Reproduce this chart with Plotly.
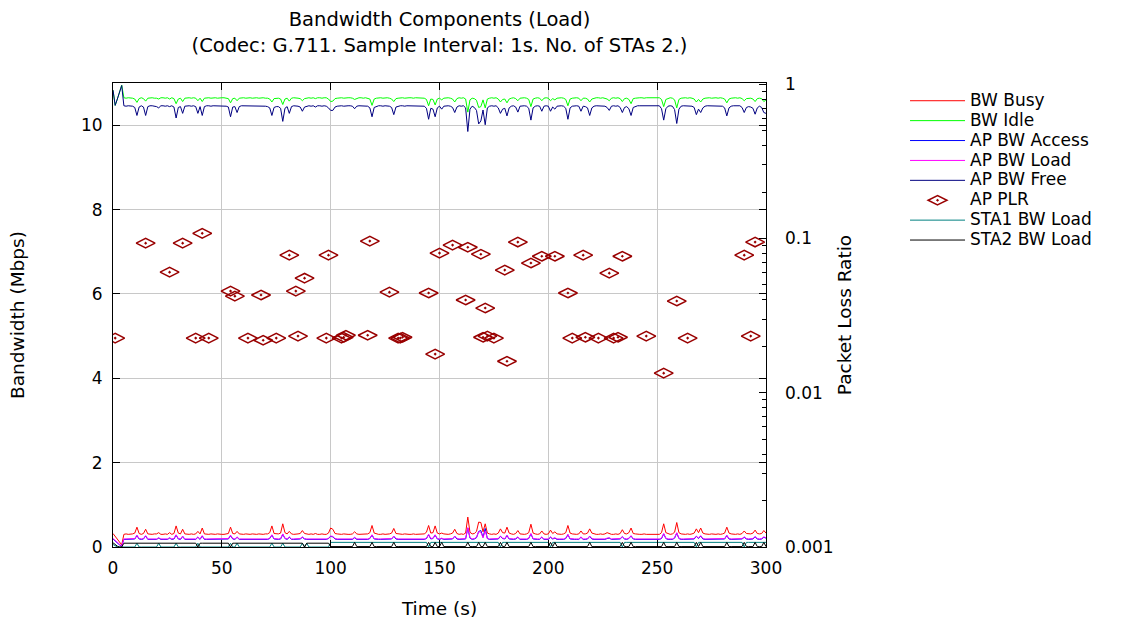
import plotly.graph_objects as go

# ---------------- data ----------------
TIME_S = list(range(0, 301))

BW_BUSY = [
    0.32, 0.25, 0.19, 0.12, 0.05, 0.30, 0.31, 0.30, 0.30, 0.31, 0.33, 0.47, 0.32, 0.30, 0.32, 0.42, 0.31, 0.30, 0.30, 0.31,
    0.31, 0.34, 0.30, 0.30, 0.31, 0.30, 0.34, 0.30, 0.32, 0.50, 0.33, 0.31, 0.42, 0.31, 0.30, 0.30, 0.31, 0.30, 0.31, 0.37,
    0.31, 0.45, 0.31, 0.30, 0.30, 0.31, 0.30, 0.30, 0.31, 0.30, 0.30, 0.30, 0.31, 0.32, 0.47, 0.32, 0.31, 0.37, 0.31, 0.30,
    0.30, 0.31, 0.30, 0.30, 0.31, 0.30, 0.30, 0.31, 0.30, 0.30, 0.31, 0.31, 0.34, 0.50, 0.32, 0.31, 0.31, 0.33, 0.55, 0.34,
    0.31, 0.37, 0.31, 0.30, 0.30, 0.31, 0.32, 0.39, 0.32, 0.31, 0.30, 0.31, 0.30, 0.32, 0.30, 0.30, 0.31, 0.30, 0.30, 0.33,
    0.45, 0.42, 0.32, 0.31, 0.30, 0.30, 0.31, 0.30, 0.30, 0.30, 0.31, 0.36, 0.31, 0.30, 0.30, 0.31, 0.30, 0.31, 0.34, 0.51,
    0.33, 0.31, 0.30, 0.30, 0.31, 0.30, 0.30, 0.31, 0.33, 0.44, 0.32, 0.31, 0.30, 0.30, 0.31, 0.30, 0.30, 0.30, 0.31, 0.30,
    0.30, 0.31, 0.30, 0.31, 0.35, 0.51, 0.33, 0.34, 0.50, 0.33, 0.31, 0.33, 0.31, 0.30, 0.30, 0.31, 0.33, 0.42, 0.32, 0.30,
    0.31, 0.30, 0.33, 0.71, 0.35, 0.31, 0.32, 0.37, 0.59, 0.58, 0.36, 0.55, 0.33, 0.31, 0.30, 0.31, 0.30, 0.33, 0.43, 0.34,
    0.33, 0.47, 0.33, 0.31, 0.30, 0.32, 0.39, 0.31, 0.30, 0.30, 0.31, 0.34, 0.54, 0.33, 0.31, 0.30, 0.31, 0.38, 0.31, 0.30,
    0.31, 0.40, 0.32, 0.36, 0.31, 0.30, 0.30, 0.31, 0.34, 0.51, 0.33, 0.31, 0.30, 0.30, 0.31, 0.38, 0.31, 0.31, 0.33, 0.43,
    0.33, 0.31, 0.30, 0.30, 0.31, 0.30, 0.31, 0.34, 0.31, 0.30, 0.30, 0.31, 0.30, 0.32, 0.41, 0.32, 0.31, 0.34, 0.45, 0.32,
    0.31, 0.30, 0.30, 0.30, 0.31, 0.30, 0.30, 0.30, 0.31, 0.30, 0.30, 0.30, 0.34, 0.55, 0.34, 0.31, 0.30, 0.31, 0.35, 0.58,
    0.34, 0.31, 0.30, 0.30, 0.31, 0.30, 0.31, 0.33, 0.43, 0.34, 0.45, 0.33, 0.31, 0.30, 0.30, 0.31, 0.30, 0.30, 0.31, 0.30,
    0.31, 0.33, 0.47, 0.33, 0.31, 0.30, 0.30, 0.31, 0.30, 0.32, 0.38, 0.32, 0.31, 0.31, 0.33, 0.40, 0.32, 0.31, 0.32, 0.39,
    0.33,
]

BW_IDLE = [
    10.83, 10.47, 10.62, 10.78, 10.95, 10.65, 10.64, 10.65, 10.65, 10.64, 10.62, 10.54, 10.63, 10.65, 10.63, 10.57, 10.64, 10.65, 10.65, 10.64,
    10.64, 10.62, 10.65, 10.65, 10.64, 10.65, 10.62, 10.65, 10.63, 10.51, 10.62, 10.64, 10.56, 10.64, 10.65, 10.65, 10.64, 10.65, 10.64, 10.58,
    10.64, 10.56, 10.64, 10.65, 10.65, 10.64, 10.65, 10.65, 10.64, 10.65, 10.65, 10.65, 10.64, 10.63, 10.53, 10.63, 10.64, 10.58, 10.64, 10.65,
    10.65, 10.64, 10.65, 10.65, 10.64, 10.65, 10.65, 10.64, 10.65, 10.65, 10.64, 10.64, 10.62, 10.55, 10.63, 10.64, 10.64, 10.62, 10.49, 10.62,
    10.64, 10.57, 10.64, 10.65, 10.65, 10.64, 10.63, 10.58, 10.63, 10.64, 10.65, 10.64, 10.65, 10.63, 10.65, 10.65, 10.64, 10.65, 10.65, 10.62,
    10.56, 10.57, 10.63, 10.64, 10.65, 10.65, 10.64, 10.65, 10.65, 10.65, 10.64, 10.61, 10.64, 10.65, 10.65, 10.64, 10.65, 10.64, 10.62, 10.47,
    10.62, 10.64, 10.65, 10.65, 10.64, 10.65, 10.65, 10.64, 10.62, 10.56, 10.63, 10.64, 10.65, 10.65, 10.64, 10.65, 10.65, 10.65, 10.64, 10.65,
    10.65, 10.64, 10.65, 10.64, 10.61, 10.46, 10.62, 10.61, 10.48, 10.62, 10.64, 10.60, 10.64, 10.65, 10.65, 10.64, 10.62, 10.55, 10.63, 10.65,
    10.64, 10.65, 10.62, 10.31, 10.60, 10.64, 10.63, 10.59, 10.42, 10.44, 10.60, 10.41, 10.62, 10.64, 10.65, 10.64, 10.65, 10.62, 10.55, 10.61,
    10.62, 10.53, 10.62, 10.64, 10.65, 10.63, 10.58, 10.64, 10.65, 10.65, 10.64, 10.61, 10.44, 10.62, 10.64, 10.65, 10.64, 10.58, 10.64, 10.65,
    10.64, 10.58, 10.63, 10.60, 10.64, 10.65, 10.65, 10.64, 10.61, 10.46, 10.62, 10.64, 10.65, 10.65, 10.64, 10.58, 10.64, 10.64, 10.62, 10.55,
    10.62, 10.64, 10.65, 10.65, 10.64, 10.65, 10.64, 10.62, 10.58, 10.64, 10.65, 10.64, 10.65, 10.63, 10.56, 10.63, 10.64, 10.61, 10.51, 10.63,
    10.64, 10.65, 10.65, 10.65, 10.64, 10.65, 10.65, 10.65, 10.64, 10.65, 10.65, 10.65, 10.61, 10.44, 10.61, 10.64, 10.65, 10.64, 10.60, 10.41,
    10.61, 10.64, 10.65, 10.65, 10.64, 10.65, 10.64, 10.62, 10.55, 10.61, 10.55, 10.62, 10.64, 10.65, 10.65, 10.64, 10.65, 10.65, 10.64, 10.65,
    10.64, 10.62, 10.53, 10.62, 10.64, 10.65, 10.65, 10.64, 10.65, 10.63, 10.58, 10.63, 10.64, 10.64, 10.62, 10.56, 10.63, 10.64, 10.63, 10.56,
    10.60,
]

AP_BW_ACCESS = [
    0.19, 0.14, 0.09, 0.05, 0.02, 0.18, 0.18, 0.18, 0.18, 0.18, 0.19, 0.27, 0.19, 0.18, 0.19, 0.26, 0.18, 0.18, 0.18, 0.18,
    0.18, 0.21, 0.18, 0.18, 0.18, 0.18, 0.21, 0.18, 0.19, 0.28, 0.19, 0.18, 0.25, 0.18, 0.18, 0.18, 0.18, 0.18, 0.18, 0.23,
    0.18, 0.26, 0.18, 0.18, 0.18, 0.18, 0.18, 0.18, 0.18, 0.18, 0.18, 0.18, 0.18, 0.19, 0.27, 0.19, 0.18, 0.23, 0.18, 0.18,
    0.18, 0.18, 0.18, 0.18, 0.18, 0.18, 0.18, 0.18, 0.18, 0.18, 0.18, 0.18, 0.20, 0.28, 0.19, 0.18, 0.18, 0.19, 0.30, 0.20,
    0.18, 0.23, 0.18, 0.18, 0.18, 0.18, 0.19, 0.23, 0.19, 0.18, 0.18, 0.18, 0.18, 0.19, 0.18, 0.18, 0.18, 0.18, 0.18, 0.20,
    0.25, 0.24, 0.19, 0.18, 0.18, 0.18, 0.18, 0.18, 0.18, 0.18, 0.18, 0.22, 0.18, 0.18, 0.18, 0.18, 0.18, 0.18, 0.20, 0.28,
    0.19, 0.18, 0.18, 0.18, 0.18, 0.18, 0.18, 0.18, 0.19, 0.25, 0.19, 0.18, 0.18, 0.18, 0.18, 0.18, 0.18, 0.18, 0.18, 0.18,
    0.18, 0.18, 0.18, 0.18, 0.20, 0.29, 0.19, 0.20, 0.28, 0.19, 0.18, 0.20, 0.18, 0.18, 0.18, 0.18, 0.19, 0.25, 0.19, 0.18,
    0.18, 0.18, 0.19, 0.45, 0.21, 0.18, 0.19, 0.22, 0.37, 0.39, 0.23, 0.44, 0.20, 0.18, 0.18, 0.18, 0.18, 0.19, 0.25, 0.20,
    0.19, 0.27, 0.19, 0.18, 0.18, 0.19, 0.23, 0.18, 0.18, 0.18, 0.18, 0.20, 0.31, 0.19, 0.18, 0.18, 0.18, 0.23, 0.18, 0.18,
    0.18, 0.23, 0.19, 0.21, 0.18, 0.18, 0.18, 0.18, 0.20, 0.29, 0.19, 0.18, 0.18, 0.18, 0.18, 0.23, 0.18, 0.18, 0.19, 0.25,
    0.19, 0.18, 0.18, 0.18, 0.18, 0.18, 0.18, 0.20, 0.21, 0.18, 0.18, 0.18, 0.18, 0.19, 0.24, 0.19, 0.18, 0.20, 0.26, 0.19,
    0.18, 0.18, 0.18, 0.18, 0.18, 0.18, 0.18, 0.18, 0.18, 0.18, 0.18, 0.18, 0.20, 0.31, 0.20, 0.18, 0.18, 0.18, 0.21, 0.33,
    0.20, 0.18, 0.18, 0.18, 0.18, 0.18, 0.18, 0.19, 0.25, 0.20, 0.26, 0.19, 0.18, 0.18, 0.18, 0.18, 0.18, 0.18, 0.18, 0.18,
    0.18, 0.19, 0.27, 0.19, 0.18, 0.18, 0.18, 0.18, 0.18, 0.19, 0.23, 0.19, 0.18, 0.18, 0.19, 0.24, 0.19, 0.18, 0.19, 0.23,
    0.21,
]

AP_BW_LOAD = [
    0.20, 0.15, 0.10, 0.06, 0.02, 0.19, 0.19, 0.19, 0.19, 0.19, 0.20, 0.28, 0.20, 0.19, 0.20, 0.27, 0.19, 0.19, 0.19, 0.19,
    0.19, 0.22, 0.19, 0.19, 0.19, 0.19, 0.22, 0.19, 0.20, 0.29, 0.20, 0.19, 0.26, 0.19, 0.19, 0.19, 0.19, 0.19, 0.19, 0.24,
    0.19, 0.27, 0.19, 0.19, 0.19, 0.19, 0.19, 0.19, 0.19, 0.19, 0.19, 0.19, 0.19, 0.20, 0.28, 0.20, 0.19, 0.24, 0.19, 0.19,
    0.19, 0.19, 0.19, 0.19, 0.19, 0.19, 0.19, 0.19, 0.19, 0.19, 0.19, 0.19, 0.21, 0.29, 0.20, 0.19, 0.19, 0.20, 0.31, 0.21,
    0.19, 0.24, 0.19, 0.19, 0.19, 0.19, 0.20, 0.24, 0.20, 0.19, 0.19, 0.19, 0.19, 0.20, 0.19, 0.19, 0.19, 0.19, 0.19, 0.21,
    0.26, 0.25, 0.20, 0.19, 0.19, 0.19, 0.19, 0.19, 0.19, 0.19, 0.19, 0.23, 0.19, 0.19, 0.19, 0.19, 0.19, 0.19, 0.21, 0.29,
    0.20, 0.19, 0.19, 0.19, 0.19, 0.19, 0.19, 0.19, 0.20, 0.26, 0.20, 0.19, 0.19, 0.19, 0.19, 0.19, 0.19, 0.19, 0.19, 0.19,
    0.19, 0.19, 0.19, 0.19, 0.21, 0.30, 0.20, 0.21, 0.29, 0.20, 0.19, 0.21, 0.19, 0.19, 0.19, 0.19, 0.20, 0.26, 0.20, 0.19,
    0.19, 0.19, 0.20, 0.46, 0.22, 0.19, 0.20, 0.23, 0.36, 0.35, 0.22, 0.38, 0.20, 0.19, 0.19, 0.19, 0.19, 0.20, 0.26, 0.21,
    0.20, 0.28, 0.20, 0.19, 0.19, 0.20, 0.24, 0.19, 0.19, 0.19, 0.19, 0.21, 0.32, 0.20, 0.19, 0.19, 0.19, 0.24, 0.19, 0.19,
    0.19, 0.24, 0.20, 0.22, 0.19, 0.19, 0.19, 0.19, 0.21, 0.30, 0.20, 0.19, 0.19, 0.19, 0.19, 0.24, 0.19, 0.19, 0.20, 0.26,
    0.20, 0.19, 0.19, 0.19, 0.19, 0.19, 0.19, 0.21, 0.22, 0.19, 0.19, 0.19, 0.19, 0.20, 0.25, 0.20, 0.19, 0.21, 0.27, 0.20,
    0.19, 0.19, 0.19, 0.19, 0.19, 0.19, 0.19, 0.19, 0.19, 0.19, 0.19, 0.19, 0.21, 0.32, 0.21, 0.19, 0.19, 0.19, 0.22, 0.34,
    0.21, 0.19, 0.19, 0.19, 0.19, 0.19, 0.19, 0.20, 0.26, 0.21, 0.27, 0.20, 0.19, 0.19, 0.19, 0.19, 0.19, 0.19, 0.19, 0.19,
    0.19, 0.20, 0.28, 0.20, 0.19, 0.19, 0.19, 0.19, 0.19, 0.20, 0.24, 0.20, 0.19, 0.19, 0.20, 0.25, 0.20, 0.19, 0.20, 0.24,
    0.22,
]

AP_BW_FREE = [
    10.83, 10.47, 10.62, 10.78, 10.94, 10.46, 10.45, 10.46, 10.46, 10.45, 10.42, 10.23, 10.43, 10.46, 10.43, 10.23, 10.44, 10.46, 10.46, 10.45,
    10.44, 10.41, 10.46, 10.46, 10.45, 10.46, 10.44, 10.46, 10.43, 10.17, 10.42, 10.44, 10.28, 10.45, 10.46, 10.46, 10.45, 10.46, 10.44, 10.28,
    10.44, 10.23, 10.44, 10.46, 10.46, 10.45, 10.46, 10.46, 10.45, 10.46, 10.46, 10.46, 10.45, 10.43, 10.20, 10.43, 10.44, 10.30, 10.44, 10.46,
    10.46, 10.45, 10.46, 10.46, 10.45, 10.46, 10.46, 10.45, 10.46, 10.46, 10.45, 10.44, 10.41, 10.23, 10.42, 10.44, 10.44, 10.40, 10.09, 10.40,
    10.44, 10.28, 10.44, 10.46, 10.46, 10.45, 10.43, 10.33, 10.43, 10.45, 10.46, 10.45, 10.46, 10.43, 10.46, 10.46, 10.45, 10.46, 10.45, 10.41,
    10.35, 10.35, 10.43, 10.45, 10.46, 10.46, 10.45, 10.46, 10.46, 10.46, 10.45, 10.39, 10.45, 10.46, 10.46, 10.45, 10.46, 10.45, 10.41, 10.20,
    10.42, 10.45, 10.46, 10.46, 10.45, 10.46, 10.46, 10.45, 10.42, 10.25, 10.43, 10.45, 10.46, 10.46, 10.45, 10.46, 10.46, 10.46, 10.45, 10.46,
    10.46, 10.45, 10.46, 10.45, 10.40, 10.14, 10.40, 10.38, 10.20, 10.41, 10.45, 10.38, 10.45, 10.46, 10.46, 10.45, 10.42, 10.30, 10.43, 10.46,
    10.45, 10.46, 10.41, 9.85, 10.38, 10.45, 10.42, 10.35, 10.03, 10.10, 10.36, 10.01, 10.41, 10.45, 10.46, 10.45, 10.46, 10.41, 10.28, 10.38,
    10.40, 10.22, 10.41, 10.45, 10.46, 10.43, 10.31, 10.45, 10.46, 10.46, 10.45, 10.40, 10.12, 10.41, 10.45, 10.46, 10.45, 10.33, 10.45, 10.46,
    10.45, 10.33, 10.43, 10.38, 10.45, 10.46, 10.46, 10.45, 10.40, 10.14, 10.41, 10.45, 10.46, 10.46, 10.45, 10.33, 10.45, 10.44, 10.41, 10.23,
    10.41, 10.45, 10.46, 10.46, 10.45, 10.46, 10.45, 10.42, 10.35, 10.45, 10.46, 10.45, 10.46, 10.42, 10.30, 10.42, 10.44, 10.39, 10.23, 10.42,
    10.45, 10.46, 10.46, 10.46, 10.45, 10.46, 10.46, 10.46, 10.45, 10.46, 10.46, 10.46, 10.39, 10.12, 10.39, 10.45, 10.46, 10.45, 10.37, 10.04,
    10.38, 10.45, 10.46, 10.46, 10.45, 10.46, 10.45, 10.42, 10.25, 10.38, 10.30, 10.41, 10.45, 10.46, 10.46, 10.45, 10.46, 10.46, 10.45, 10.46,
    10.45, 10.41, 10.22, 10.41, 10.45, 10.46, 10.46, 10.45, 10.46, 10.42, 10.30, 10.42, 10.44, 10.43, 10.40, 10.26, 10.41, 10.45, 10.42, 10.30,
    10.28,
]

STA1_BW_LOAD = [
    0.06, 0.03, 0.00, 0.00, 0.00, 0.00, 0.00, 0.00, 0.00, 0.00, 0.00, 0.09, 0.00, 0.00, 0.00, 0.00, 0.00, 0.00, 0.00, 0.00,
    0.00, 0.09, 0.00, 0.00, 0.00, 0.00, 0.00, 0.00, 0.00, 0.09, 0.00, 0.00, 0.00, 0.00, 0.00, 0.00, 0.00, 0.00, 0.00, 0.09,
    0.00, 0.00, 0.00, 0.00, 0.00, 0.00, 0.00, 0.00, 0.00, 0.00, 0.00, 0.00, 0.00, 0.00, 0.09, 0.00, 0.00, 0.09, 0.00, 0.00,
    0.00, 0.00, 0.00, 0.00, 0.00, 0.00, 0.00, 0.00, 0.00, 0.00, 0.00, 0.00, 0.00, 0.09, 0.00, 0.00, 0.00, 0.00, 0.09, 0.00,
    0.00, 0.00, 0.00, 0.00, 0.00, 0.00, 0.00, 0.09, 0.00, 0.09, 0.00, 0.00, 0.00, 0.00, 0.00, 0.00, 0.00, 0.00, 0.00, 0.00,
    0.11, 0.11, 0.11, 0.11, 0.11, 0.11, 0.11, 0.11, 0.11, 0.11, 0.11, 0.11, 0.11, 0.11, 0.11, 0.11, 0.11, 0.11, 0.11, 0.11,
    0.11, 0.11, 0.11, 0.11, 0.11, 0.11, 0.11, 0.11, 0.11, 0.11, 0.11, 0.11, 0.11, 0.11, 0.11, 0.11, 0.11, 0.11, 0.11, 0.11,
    0.11, 0.11, 0.11, 0.11, 0.11, 0.00, 0.11, 0.11, 0.11, 0.11, 0.11, 0.11, 0.11, 0.11, 0.11, 0.11, 0.11, 0.11, 0.11, 0.11,
    0.11, 0.11, 0.11, 0.11, 0.11, 0.11, 0.11, 0.11, 0.11, 0.11, 0.11, 0.11, 0.11, 0.11, 0.11, 0.11, 0.11, 0.11, 0.00, 0.11,
    0.11, 0.11, 0.11, 0.11, 0.11, 0.11, 0.11, 0.11, 0.11, 0.11, 0.11, 0.11, 0.11, 0.11, 0.11, 0.11, 0.11, 0.11, 0.11, 0.11,
    0.11, 0.00, 0.11, 0.11, 0.11, 0.11, 0.11, 0.11, 0.11, 0.11, 0.11, 0.11, 0.11, 0.11, 0.11, 0.11, 0.11, 0.11, 0.11, 0.11,
    0.11, 0.11, 0.11, 0.11, 0.11, 0.11, 0.11, 0.11, 0.11, 0.11, 0.11, 0.11, 0.11, 0.11, 0.00, 0.11, 0.11, 0.11, 0.11, 0.11,
    0.11, 0.11, 0.11, 0.11, 0.11, 0.11, 0.11, 0.11, 0.11, 0.11, 0.11, 0.11, 0.11, 0.11, 0.11, 0.11, 0.11, 0.11, 0.11, 0.11,
    0.11, 0.11, 0.11, 0.11, 0.11, 0.11, 0.11, 0.11, 0.00, 0.11, 0.11, 0.11, 0.11, 0.11, 0.11, 0.11, 0.11, 0.11, 0.11, 0.11,
    0.11, 0.11, 0.11, 0.11, 0.11, 0.11, 0.11, 0.11, 0.11, 0.11, 0.00, 0.11, 0.11, 0.11, 0.11, 0.11, 0.11, 0.11, 0.11, 0.11,
    0.11,
]

STA2_BW_LOAD = [
    0.10, 0.05, 0.02, 0.00, 0.00, 0.09, 0.09, 0.09, 0.09, 0.09, 0.09, 0.09, 0.09, 0.09, 0.09, 0.09, 0.09, 0.09, 0.09, 0.09,
    0.09, 0.09, 0.09, 0.09, 0.09, 0.09, 0.09, 0.09, 0.09, 0.09, 0.09, 0.09, 0.09, 0.09, 0.09, 0.09, 0.09, 0.09, 0.09, 0.00,
    0.09, 0.09, 0.09, 0.09, 0.09, 0.09, 0.09, 0.09, 0.09, 0.09, 0.09, 0.09, 0.09, 0.09, 0.00, 0.09, 0.09, 0.09, 0.09, 0.09,
    0.09, 0.09, 0.09, 0.09, 0.09, 0.09, 0.09, 0.09, 0.09, 0.09, 0.09, 0.09, 0.09, 0.09, 0.09, 0.09, 0.09, 0.09, 0.09, 0.09,
    0.09, 0.09, 0.09, 0.09, 0.09, 0.09, 0.09, 0.09, 0.00, 0.09, 0.09, 0.09, 0.09, 0.09, 0.09, 0.09, 0.09, 0.09, 0.09, 0.09,
    0.01, 0.01, 0.01, 0.01, 0.01, 0.01, 0.01, 0.01, 0.01, 0.01, 0.01, 0.11, 0.01, 0.01, 0.01, 0.01, 0.01, 0.01, 0.01, 0.11,
    0.01, 0.01, 0.01, 0.01, 0.01, 0.01, 0.01, 0.01, 0.01, 0.11, 0.01, 0.01, 0.01, 0.01, 0.01, 0.01, 0.01, 0.01, 0.01, 0.01,
    0.01, 0.01, 0.01, 0.01, 0.01, 0.11, 0.01, 0.01, 0.11, 0.01, 0.01, 0.11, 0.01, 0.01, 0.01, 0.01, 0.01, 0.01, 0.01, 0.01,
    0.01, 0.01, 0.01, 0.11, 0.01, 0.01, 0.01, 0.01, 0.11, 0.01, 0.01, 0.11, 0.01, 0.01, 0.01, 0.01, 0.01, 0.01, 0.11, 0.01,
    0.01, 0.11, 0.01, 0.01, 0.01, 0.01, 0.01, 0.01, 0.01, 0.01, 0.01, 0.01, 0.11, 0.01, 0.01, 0.01, 0.01, 0.01, 0.01, 0.01,
    0.01, 0.11, 0.01, 0.11, 0.01, 0.01, 0.01, 0.01, 0.01, 0.01, 0.01, 0.01, 0.01, 0.01, 0.01, 0.01, 0.01, 0.01, 0.01, 0.11,
    0.01, 0.01, 0.01, 0.01, 0.01, 0.01, 0.01, 0.01, 0.01, 0.01, 0.01, 0.01, 0.01, 0.01, 0.11, 0.01, 0.01, 0.01, 0.11, 0.01,
    0.01, 0.01, 0.01, 0.01, 0.01, 0.01, 0.01, 0.01, 0.01, 0.01, 0.01, 0.01, 0.01, 0.11, 0.01, 0.01, 0.01, 0.01, 0.01, 0.11,
    0.01, 0.01, 0.01, 0.01, 0.01, 0.01, 0.01, 0.01, 0.11, 0.01, 0.11, 0.01, 0.01, 0.01, 0.01, 0.01, 0.01, 0.01, 0.01, 0.01,
    0.01, 0.01, 0.11, 0.01, 0.01, 0.01, 0.01, 0.01, 0.01, 0.01, 0.11, 0.01, 0.01, 0.01, 0.01, 0.11, 0.01, 0.01, 0.01, 0.11,
    0.01,
]

PLR_TIME = [
    1, 15, 26, 32, 38, 41, 44, 54, 56, 62, 68, 69, 75, 81, 84, 85, 88, 98, 99,
    105, 106, 107, 117, 118, 127, 131, 132, 133, 145, 148, 150, 156, 162, 163,
    169, 170, 171, 172, 175, 180, 181, 186, 192, 197, 203, 209, 211, 216, 217,
    223, 228, 230, 232, 234, 245, 253, 259, 264, 290, 293, 295,
]
PLR_VALUE = [
    0.0226, 0.0933, 0.0605, 0.0933, 0.0226, 0.108, 0.0226, 0.0456, 0.0423, 0.0226, 0.043, 0.0219, 0.0226, 0.078, 0.0456, 0.0233, 0.0553, 0.0226, 0.078,
    0.0226, 0.0229, 0.0236, 0.0236, 0.0962, 0.0449, 0.0226, 0.0226, 0.0229, 0.0443, 0.0178, 0.0804, 0.0906, 0.0399, 0.0878,
    0.0791, 0.0229, 0.0354, 0.0233, 0.0226, 0.0624, 0.0160, 0.0948, 0.0693, 0.0767, 0.0767, 0.0443, 0.0226, 0.078, 0.0229,
    0.0226, 0.0596, 0.0226, 0.0229, 0.0767, 0.0233, 0.0134, 0.0393, 0.0226, 0.078, 0.0233, 0.0948,
]

LEFT_TICKS = [0, 2, 4, 6, 8, 10]
RIGHT_TICKS = [0.001, 0.01, 0.1, 1]
RIGHT_TICK_TEXT = ["0.001", "0.01", "0.1", "1"]
X_TICKS = [0, 50, 100, 150, 200, 250, 300]

# ---------------- figure ----------------
FONT = "DejaVu Sans"
LEGEND_TEXT_PX = 17
fig = go.Figure()


def legend_name(text):
    return '<span style="font-size:%dpx">%s</span>' % (LEGEND_TEXT_PX, text)


def add_line(name, values, color):
    fig.add_trace(go.Scatter(
        x=TIME_S[:len(values)], y=values, mode="lines", name=legend_name(name),
        line=dict(color=color, width=1),
    ))


add_line("BW Busy", BW_BUSY, "#ff0000")
add_line("BW Idle", BW_IDLE, "#00ff00")
add_line("AP BW Access", AP_BW_ACCESS, "#0000ff")
add_line("AP BW Load", AP_BW_LOAD, "#ff00ff")
add_line("AP BW Free", AP_BW_FREE, "#000080")
fig.add_trace(go.Scatter(
    x=PLR_TIME, y=PLR_VALUE, mode="markers", name=legend_name("AP PLR"), yaxis="y2",
    marker=dict(symbol="diamond-wide-open-dot", size=13.5, color="#990000",
                line=dict(width=1.5, color="#990000")),
))
add_line("STA1 BW Load", STA1_BW_LOAD, "#008080")
add_line("STA2 BW Load", STA2_BW_LOAD, "#000000")

fig.update_layout(
    width=1125, height=626,
    margin=dict(l=113, r=359, t=83, b=79, autoexpand=False),
    paper_bgcolor="white", plot_bgcolor="white",
    font=dict(family=FONT, size=17, color="black"),
    title=dict(
        text="Bandwidth Components (Load)<br>(Codec: G.711. Sample Interval: 1s. No. of STAs 2.)",
        xref="paper", x=0.5, xanchor="center",
        yref="container", y=0.9577, yanchor="top",
        font=dict(family=FONT, size=19.5, color="black"),
    ),
    showlegend=True,
    legend=dict(
        x=1.2129, xanchor="left", y=0.994, yanchor="top",
        font=dict(family=FONT, size=13, color="black"),
        itemwidth=55,
        bgcolor="rgba(0,0,0,0)", borderwidth=0, tracegroupgap=0,
    ),
    xaxis=dict(
        range=[0, 300], tickmode="array", tickvals=X_TICKS,
        ticks="inside", ticklen=7, tickcolor="black",
        mirror="ticks", showline=True, linecolor="black", linewidth=1,
        showgrid=True, gridcolor="#c8c8c8", gridwidth=1, zeroline=False,
        ticklabelstandoff=6,
        title=dict(text="Time (s)", standoff=24, font=dict(size=18.5)),
        automargin=False,
    ),
    yaxis=dict(
        range=[0, 11], tickmode="array", tickvals=LEFT_TICKS,
        ticks="inside", ticklen=7, tickcolor="black",
        mirror="ticks", showline=True, linecolor="black", linewidth=1,
        showgrid=True, gridcolor="#c8c8c8", gridwidth=1, zeroline=False,
        ticklabelstandoff=6,
        title=dict(text="Bandwidth (Mbps)", standoff=51, font=dict(size=18.5)),
        automargin=False,
    ),
    yaxis2=dict(
        type="log", range=[-3, 0.008], overlaying="y", side="right",
        tickmode="array", tickvals=RIGHT_TICKS, ticktext=RIGHT_TICK_TEXT,
        ticks="inside", ticklen=7, tickcolor="black",
        minor=dict(ticks="inside", ticklen=4, tickcolor="black", dtick="D1", showgrid=False),
        showgrid=False, showline=False, zeroline=False,
        ticklabelstandoff=18,
        title=dict(text="Packet Loss Ratio", standoff=5, font=dict(size=18.5)),
        automargin=False,
    ),
)

fig.write_html("out.html")
